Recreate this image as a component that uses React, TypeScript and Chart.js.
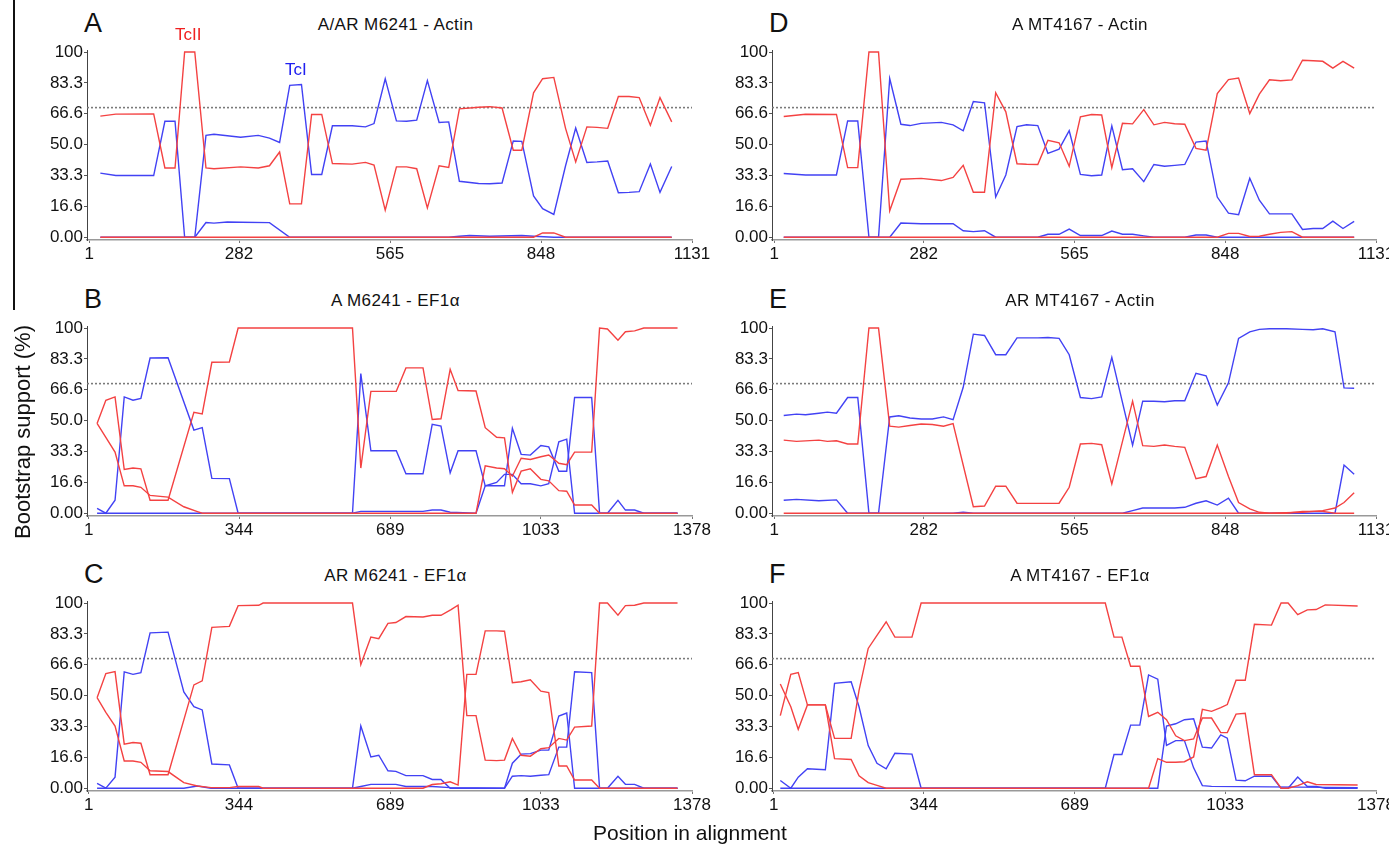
import React, { useEffect, useRef } from "react";
import { Chart, registerables } from "chart.js";

Chart.register(...registerables);

type Pt = [number, number];

// ---- axis ticks / labels ----
const Y_TICKS = [0, 100 / 6, 200 / 6, 50, 400 / 6, 500 / 6, 100];
const Y_LABELS = ["0.00", "16.6", "33.3", "50.0", "66.6", "83.3", "100"];
const ACTIN_TICKS = [1, 282, 565, 848, 1131];
const EF1A_TICKS = [1, 344, 689, 1033, 1378];
const THRESHOLD = 70;

// ---- Panel A: A/AR M6241 - Actin ----
const A_TcII_1: Pt[] = [[22,65.4],[51,66.5],[122,66.6],[143,37.4],[162,37.4],[180,100],[199,100],[220,37.4],[235,37],[285,38],[318,37.4],[339,38.6],[358,46],[377,18],[399,18],[418,66.3],[437,66.3],[457,39.8],[494,39.5],[519,40.4],[535,39],[556,14.6],[577,38],[596,38],[615,37],[635,15.8],[657,38.6],[675,37.7],[695,69.3],[731,70.2],[752,70.5],[775,69.8],[796,47],[812,47],[834,78],[851,85.6],[872,86.3],[894,58.8],[913,40.7],[934,59.6],[953,59.3],[973,58.8],[993,76],[1013,76],[1032,75.4],[1053,60.5],[1071,75.4],[1093,62.3]];
const A_TcII_2: Pt[] = [[22,0],[834,0],[851,2.3],[872,2.3],[894,0],[1093,0]];
const A_TcI_1: Pt[] = [[22,34.6],[51,33.3],[122,33.3],[143,62.6],[162,62.6],[180,0],[199,0],[220,55],[235,55.6],[285,54],[318,55],[339,53.5],[358,51.2],[377,82],[399,82.5],[418,33.9],[437,33.9],[457,60.2],[494,60.2],[519,59.6],[535,61.4],[556,85.6],[577,62.8],[596,62.6],[615,63.2],[635,84.6],[657,62],[675,62.3],[695,30.2],[731,29],[752,28.9],[775,29.3],[796,52],[812,51.8],[834,22.3],[851,15.4],[872,12.3],[894,38.6],[913,59],[934,40.4],[953,40.7],[973,41.2],[993,24],[1013,24.2],[1032,24.6],[1053,39.5],[1071,24.2],[1093,38.2]];
const A_TcI_2: Pt[] = [[22,0],[199,0],[220,7.9],[235,7.6],[260,8.2],[285,8.1],[339,7.9],[377,0],[675,0],[695,0.5],[714,0.9],[752,0.5],[812,0.9],[834,0.5],[872,0],[1093,0]];

// ---- Panel B: A M6241 - EF1a ----
const B_TcII_1: Pt[] = [[20,48.5],[40,61],[61,62.8],[82,23.6],[102,24.4],[120,24],[141,7],[182,7],[241,54.5],[260,53.6],[282,81.5],[322,81.7],[342,100],[603,100],[622,24.4],[645,65.8],[703,65.8],[725,78.5],[764,78.5],[785,50.6],[805,51],[826,77.7],[844,66.3],[885,66],[906,46.2],[932,41],[950,40.7],[968,11.3],[988,22.7],[1009,24],[1033,18.3],[1051,17.5],[1074,12.2],[1092,11.9],[1110,4.4],[1149,4.4],[1167,0],[1345,0]];
const B_TcII_2: Pt[] = [[20,48.5],[40,41],[61,33],[82,14.8],[102,14.8],[120,14],[141,9.6],[182,8.7],[218,3.5],[249,0.9],[260,0],[885,0],[906,25.6],[932,24.4],[950,24],[968,20],[988,29.7],[1009,29],[1033,30.5],[1051,31.4],[1074,27],[1092,26.2],[1110,33],[1149,33],[1167,100],[1185,99.5],[1209,93.4],[1226,98],[1247,98.5],[1268,100],[1345,100]];
const B_TcI_1: Pt[] = [[20,2.6],[40,0],[61,7],[82,62.8],[102,61],[120,62],[141,83.8],[182,84],[241,44.9],[260,46.2],[282,18.8],[322,18.7],[342,0],[603,0],[622,75.4],[645,33.7],[703,33.7],[725,21.3],[764,21.3],[785,48],[805,47.1],[826,21.8],[844,33.7],[885,33.7],[906,14.8],[932,14.8],[950,14.8],[968,45.9],[988,31.8],[1009,31.4],[1033,36.6],[1051,35.8],[1074,22.7],[1092,22.7],[1110,62.5],[1149,62.5],[1167,0],[1185,0],[1209,7],[1226,1.7],[1247,1.7],[1268,0],[1345,0]];
const B_TcI_2: Pt[] = [[20,0],[603,0],[622,1],[764,1],[785,1.7],[805,1.7],[826,0.5],[885,0],[906,14.8],[932,16.6],[950,21],[968,21],[988,15.9],[1009,15.9],[1033,14.8],[1051,15.9],[1074,38.6],[1092,40],[1110,0],[1345,0]];

// ---- Panel C: AR M6241 - EF1a ----
const C_TcII_1: Pt[] = [[20,48.9],[40,61.9],[61,63],[82,23.8],[102,24.7],[120,24.3],[141,7.3],[182,7.3],[241,55.8],[260,58],[282,86.9],[322,87.4],[342,98.6],[389,98.8],[399,100],[603,100],[622,66.8],[645,81.6],[663,80.8],[684,89],[702,89.5],[725,92.7],[764,92.5],[785,93.4],[805,93.4],[828,96.5],[844,98.8],[864,39.2],[885,39.2],[906,15.2],[932,14.9],[950,15.2],[968,26.9],[988,17.8],[1009,17.3],[1033,21.3],[1051,21.9],[1074,26.9],[1092,26],[1110,33],[1149,33.6],[1167,100],[1185,100],[1209,93.5],[1226,98.6],[1247,98.8],[1268,100],[1345,100]];
const C_TcII_2: Pt[] = [[20,48.9],[40,41],[61,33.6],[82,14.7],[102,14.7],[120,14],[141,9.4],[182,9],[218,3],[249,1.2],[280,0.3],[322,0.3],[342,0.9],[389,0.9],[399,0],[764,0],[785,2],[805,2.4],[826,3.5],[844,1.7],[864,61.5],[885,61.5],[906,85],[932,85],[950,84.8],[968,57],[988,57.5],[1009,58.6],[1033,52.4],[1051,51.6],[1074,12],[1092,12],[1110,4.4],[1149,4.4],[1167,0],[1345,0]];
const C_TcI_1: Pt[] = [[20,2.6],[40,0],[61,6],[82,62.8],[102,61.5],[120,62.4],[141,83.9],[182,84.3],[218,52],[241,44],[260,42.3],[282,13.1],[322,12.6],[342,0],[603,0],[622,33.6],[645,16.9],[663,17.8],[684,9.4],[702,9.1],[725,6.8],[764,6.8],[785,4.7],[805,4.7],[826,0],[950,0],[968,13.5],[988,18.4],[1009,18.7],[1033,20.6],[1051,20.6],[1074,39],[1092,40.6],[1110,0],[1345,0]];
const C_TcI_2: Pt[] = [[20,0],[218,0],[249,1.2],[280,0],[603,0],[622,0.9],[645,2.1],[702,2.1],[725,0.9],[785,0.9],[826,0.3],[950,0],[968,6.5],[988,6.8],[1009,6.5],[1033,7],[1051,7.3],[1074,22.2],[1092,22.2],[1110,62.9],[1149,62.4],[1167,0],[1185,0],[1209,6.5],[1226,2.1],[1247,2.1],[1268,0],[1345,0]];

// ---- Panel D: A MT4167 - Actin ----
const D_TcII_1: Pt[] = [[19,65.2],[60,66.4],[118,66.3],[139,37.6],[158,37.6],[179,100],[197,100],[218,14.3],[239,31.3],[277,31.8],[315,30.6],[337,32.3],[356,38.8],[375,24.3],[396,24.3],[417,78],[436,67.7],[457,39.7],[475,39.4],[496,39.3],[515,52.3],[536,51],[555,38.3],[576,65],[597,66.3],[616,66],[635,37.6],[655,61.5],[674,61.2],[695,68.9],[714,60.7],[734,62],[753,61.3],[772,61],[793,48],[812,47],[833,77.6],[854,85.1],[873,86],[894,66.8],[912,77.3],[931,85],[952,84.5],[973,85],[993,95.6],[1013,95.3],[1031,95],[1050,91.3],[1069,95],[1090,91.3]];
const D_TcII_2: Pt[] = [[19,0],[833,0],[854,2.1],[873,2.1],[894,0.4],[912,0.5],[931,1.6],[952,2.6],[973,3],[993,0],[1090,0]];
const D_TcI_1: Pt[] = [[19,34.4],[60,33.6],[118,33.6],[139,62.8],[158,62.8],[179,0],[197,0],[218,85.7],[239,61],[256,60.3],[277,61.5],[315,62],[337,60.7],[356,57.5],[375,73.3],[396,72.6],[417,21.7],[436,33.6],[457,59.8],[475,60.7],[496,60.3],[515,45.3],[536,47.6],[555,57.5],[576,33.9],[597,33.2],[616,33.6],[635,60.1],[655,36.5],[674,37],[695,30],[714,39.3],[734,38.3],[753,38.8],[772,39.3],[793,51.4],[812,52],[833,21.7],[854,13],[873,12.2],[894,31.8],[912,20],[931,12.6],[952,12.6],[973,12.6],[993,4.2],[1013,4.7],[1031,4.7],[1050,8.7],[1069,4.7],[1090,8.6]];
const D_TcI_2: Pt[] = [[19,0],[218,0],[239,7.7],[277,7.3],[337,7.3],[356,3.5],[375,3],[396,3.5],[417,0],[496,0],[515,1.6],[536,1.6],[555,4.4],[576,0.9],[616,0.9],[635,3.3],[655,1.6],[674,1.6],[695,0.7],[714,0],[772,0],[793,1.2],[812,1.2],[833,0],[1090,0]];

// ---- Panel E: AR MT4167 - Actin ----
const E_TcII_1: Pt[] = [[19,39.5],[43,38.8],[85,39.5],[101,38.8],[118,39.1],[139,37.4],[158,37.4],[179,100],[197,100],[218,47],[235,46.5],[256,47.4],[277,48.2],[298,47.9],[319,47],[337,48.4],[375,3.5],[396,3.9],[417,14.6],[436,14.6],[457,5.4],[496,5.3],[536,5.4],[555,14],[576,37.4],[597,37.7],[616,37],[635,15.8],[674,60.5],[693,36.5],[714,36.1],[734,36.8],[753,36.1],[772,35.6],[793,18.6],[812,19.8],[833,36.8],[854,19.8],[873,5.8],[894,2.3],[912,0.5],[931,0],[993,0.5],[1031,1.4],[1054,2.8],[1071,5.8],[1090,11]];
const E_TcII_2: Pt[] = [[19,0],[962,0],[993,1],[1031,1],[1054,0],[1090,0]];
const E_TcI_1: Pt[] = [[19,52.8],[43,53.5],[60,53.2],[85,54],[101,54.6],[118,54],[139,62.5],[158,62.5],[179,0],[197,0],[218,52],[235,52.6],[256,51.4],[277,50.9],[298,50.9],[319,52],[337,50.5],[356,68],[375,96.7],[396,96],[417,85.6],[436,85.6],[457,94.7],[496,94.7],[515,94.9],[536,94.4],[555,85.6],[576,62.5],[597,61.9],[616,62.8],[635,84.2],[674,36.8],[693,60.5],[714,60.5],[734,60.2],[753,60.7],[772,60.7],[793,75.6],[812,74.2],[833,58.4],[854,70.4],[873,94.4],[894,97.9],[912,99.3],[931,99.6],[963,99.6],[993,99.3],[1013,99.1],[1031,99.6],[1054,98],[1071,67.7],[1090,67.5]];
const E_TcI_2: Pt[] = [[19,7],[43,7.5],[85,6.7],[118,7.2],[139,0],[337,0],[356,0.5],[375,0],[655,0],[674,1.4],[693,2.8],[714,2.8],[753,2.8],[772,3.2],[793,5.4],[812,6.7],[833,4.4],[854,8.1],[873,0],[1054,0],[1071,26],[1090,21]];

// ---- Panel F: A MT4167 - EF1a ----
const F_TcII_1: Pt[] = [[16,39.2],[40,61.5],[57,62.4],[78,45],[119,45],[140,26.9],[178,26.9],[196,52.8],[217,75.5],[237,82.5],[258,89.9],[278,81.6],[317,81.6],[338,100],[759,100],[779,81.6],[797,81.6],[817,65.9],[838,65.9],[858,38.8],[879,41],[899,37],[920,28.3],[940,25.7],[961,26.6],[981,37.9],[1002,37.9],[1023,30],[1038,30],[1058,40],[1079,40.5],[1100,7.3],[1139,7.3],[1161,0],[1177,0],[1199,1.4],[1221,3.5],[1241,2],[1336,1.7]];
const F_TcII_2: Pt[] = [[16,56.3],[40,44],[57,31.8],[78,45],[119,45],[140,16],[178,15.5],[196,6.7],[217,3],[237,1.5],[258,0],[858,0],[879,16],[899,14],[920,14],[940,14.3],[961,16.9],[981,42.6],[1002,41.5],[1023,43.5],[1038,45.2],[1058,58.3],[1079,58.3],[1100,88.5],[1139,88.1],[1161,100],[1177,100],[1199,93.7],[1221,96.3],[1241,96.5],[1262,99],[1336,98.4]];
const F_TcI_1: Pt[] = [[16,4.2],[40,0],[57,6],[78,10.5],[119,10],[140,56.6],[178,57.5],[196,44],[217,23],[237,13.5],[258,10.5],[278,18.9],[317,18.4],[338,0],[759,0],[779,18.2],[797,18.2],[817,34.1],[838,34.1],[858,61.2],[879,58.9],[899,23.1],[920,25.7],[940,25.7],[961,11],[981,1.4],[1002,1],[1336,0.3]];
const F_TcI_2: Pt[] = [[16,0],[879,0],[899,33.6],[920,34.8],[940,37],[961,37.5],[981,22.2],[1002,21.7],[1023,28.8],[1038,27],[1058,4.4],[1079,4],[1100,6.5],[1139,6.5],[1161,0],[1177,0],[1199,6.1],[1221,0.9],[1241,0.9],[1262,0],[1336,0]];

// ---- styling ----
const RED = "rgb(244,66,66)";
const BLUE = "rgb(66,66,244)";
const FONT = "'Liberation Sans', Arial, Helvetica, sans-serif";
const AREA_H = 195;
const PAD_TOP = 6;
const PAD_RIGHT = 22;
const Y_AXIS_W = 80;
const X_AXIS_H = 32;

interface PanelDef {
  letter: string;
  title: string;
  xTicks: number[];
  red: Pt[][];
  blue: Pt[][];
  areaLeft: number;
  areaTop: number;
  areaWidth: number;
}

const LEFT_X = 87;
const LEFT_W = 605;
const RIGHT_X = 772;
const RIGHT_W = 604;
const ROW_TOPS = [45, 321, 596];

const PANELS: PanelDef[] = [
  { letter: "A", title: "A/AR M6241 - Actin", xTicks: ACTIN_TICKS, red: [A_TcII_1, A_TcII_2], blue: [A_TcI_1, A_TcI_2], areaLeft: LEFT_X, areaTop: ROW_TOPS[0], areaWidth: LEFT_W },
  { letter: "B", title: "A M6241 - EF1\u03b1", xTicks: EF1A_TICKS, red: [B_TcII_1, B_TcII_2], blue: [B_TcI_1, B_TcI_2], areaLeft: LEFT_X, areaTop: ROW_TOPS[1], areaWidth: LEFT_W },
  { letter: "C", title: "AR M6241 - EF1\u03b1", xTicks: EF1A_TICKS, red: [C_TcII_1, C_TcII_2], blue: [C_TcI_1, C_TcI_2], areaLeft: LEFT_X, areaTop: ROW_TOPS[2], areaWidth: LEFT_W },
  { letter: "D", title: "A MT4167 - Actin", xTicks: ACTIN_TICKS, red: [D_TcII_1, D_TcII_2], blue: [D_TcI_1, D_TcI_2], areaLeft: RIGHT_X, areaTop: ROW_TOPS[0], areaWidth: RIGHT_W },
  { letter: "E", title: "AR MT4167 - Actin", xTicks: ACTIN_TICKS, red: [E_TcII_1, E_TcII_2], blue: [E_TcI_1, E_TcI_2], areaLeft: RIGHT_X, areaTop: ROW_TOPS[1], areaWidth: RIGHT_W },
  { letter: "F", title: "A MT4167 - EF1\u03b1", xTicks: EF1A_TICKS, red: [F_TcII_1, F_TcII_2], blue: [F_TcI_1, F_TcI_2], areaLeft: RIGHT_X, areaTop: ROW_TOPS[2], areaWidth: RIGHT_W },
];

const toXY = (s: Pt[]) => s.map(([x, y]) => ({ x, y }));

function PanelChart({ p }: { p: PanelDef }) {
  const ref = useRef<HTMLCanvasElement | null>(null);
  const cw = Y_AXIS_W + p.areaWidth + PAD_RIGHT;
  const ch = PAD_TOP + AREA_H + X_AXIS_H;
  useEffect(() => {
    if (!ref.current) return;
    const xMin = p.xTicks[0] - 4;
    const xMax = p.xTicks[p.xTicks.length - 1];
    const line = (s: Pt[], color: string) => ({
      data: toXY(s),
      borderColor: color,
      backgroundColor: color,
      borderWidth: 1.4,
      pointRadius: 0,
      tension: 0,
      fill: false,
    });
    const chart = new Chart(ref.current, {
      type: "line",
      data: {
        datasets: [
          ...p.red.map((s) => line(s, RED)),
          ...p.blue.map((s) => line(s, BLUE)),
          {
            data: [
              { x: xMin, y: THRESHOLD },
              { x: xMax, y: THRESHOLD },
            ],
            borderColor: "#7a7a7a",
            borderDash: [2, 2],
            borderWidth: 1.6,
            pointRadius: 0,
            fill: false,
          },
        ],
      },
      options: {
        animation: false,
        responsive: false,
        maintainAspectRatio: false,
        events: [],
        layout: { padding: { left: 0, top: PAD_TOP, right: PAD_RIGHT, bottom: 0 }, autoPadding: false },
        plugins: { legend: { display: false }, tooltip: { enabled: false }, title: { display: false } },
        scales: {
          x: {
            type: "linear",
            min: xMin,
            max: xMax,
            afterBuildTicks: (s: any) => {
              s.ticks = p.xTicks.map((v) => ({ value: v }));
            },
            afterFit: (s: any) => {
              s.height = X_AXIS_H;
            },
            grid: { display: true, drawOnChartArea: false, drawTicks: true, tickLength: 3, color: "#777" },
            border: { display: true, color: "#999", width: 1.6 },
            ticks: {
              autoSkip: false,
              maxRotation: 0,
              padding: 1,
              color: "#111",
              font: { family: FONT, size: 17 },
              callback: (v: any) => String(v),
            },
          },
          y: {
            type: "linear",
            min: -1.5,
            max: 101,
            afterBuildTicks: (s: any) => {
              s.ticks = Y_TICKS.map((v) => ({ value: v }));
            },
            afterFit: (s: any) => {
              s.width = Y_AXIS_W;
            },
            grid: { display: true, drawOnChartArea: false, drawTicks: true, tickLength: 3, color: "#555" },
            border: { display: true, color: "#444", width: 1 },
            ticks: {
              autoSkip: false,
              padding: 1,
              color: "#111",
              font: { family: FONT, size: 17 },
              callback: (_v: any, i: number) => Y_LABELS[i],
            },
          },
        },
      } as any,
    });
    return () => chart.destroy();
  }, [p]);

  const centerX = p.areaLeft + p.areaWidth / 2 + 6;
  return (
    <>
      <canvas
        ref={ref}
        width={cw}
        height={ch}
        style={{ position: "absolute", left: p.areaLeft - Y_AXIS_W, top: p.areaTop - PAD_TOP, width: cw, height: ch }}
      />
      <div
        style={{
          position: "absolute",
          left: p.areaLeft - 3,
          top: p.areaTop - 35,
          fontFamily: FONT,
          fontSize: 27,
          lineHeight: 1,
          color: "#111",
        }}
      >
        {p.letter}
      </div>
      <div
        style={{
          position: "absolute",
          left: centerX - 200,
          width: 400,
          textAlign: "center",
          top: p.areaTop - 29,
          fontFamily: FONT,
          fontSize: 17,
          letterSpacing: 0.4,
          lineHeight: 1,
          color: "#111",
        }}
      >
        {p.title}
      </div>
    </>
  );
}

export default function App() {
  return (
    <div
      style={{
        position: "fixed",
        left: 0,
        top: 0,
        width: 1389,
        height: 844,
        overflow: "hidden",
        background: "#fff",
      }}
    >
      <div style={{ position: "absolute", left: 13, top: 0, width: 2, height: 310, background: "#111" }} />
      {PANELS.map((p) => (
        <PanelChart key={p.letter} p={p} />
      ))}
      <div style={{ position: "absolute", left: 175, top: 26, fontFamily: FONT, fontSize: 17, lineHeight: 1, color: "#f02020" }}>TcII</div>
      <div style={{ position: "absolute", left: 285, top: 61, fontFamily: FONT, fontSize: 17, lineHeight: 1, color: "#2020f0" }}>TcI</div>
      <div
        style={{
          position: "absolute",
          left: 23 - 150,
          top: 432 - 12,
          width: 300,
          height: 24,
          textAlign: "center",
          fontFamily: FONT,
          fontSize: 22,
          lineHeight: "24px",
          color: "#111",
          transform: "rotate(-90deg)",
          transformOrigin: "50% 50%",
        }}
      >
        Bootstrap support (%)
      </div>
      <div
        style={{
          position: "absolute",
          left: 690 - 200,
          width: 400,
          top: 822,
          textAlign: "center",
          fontFamily: FONT,
          fontSize: 21,
          lineHeight: 1,
          color: "#111",
        }}
      >
        Position in alignment
      </div>
    </div>
  );
}
